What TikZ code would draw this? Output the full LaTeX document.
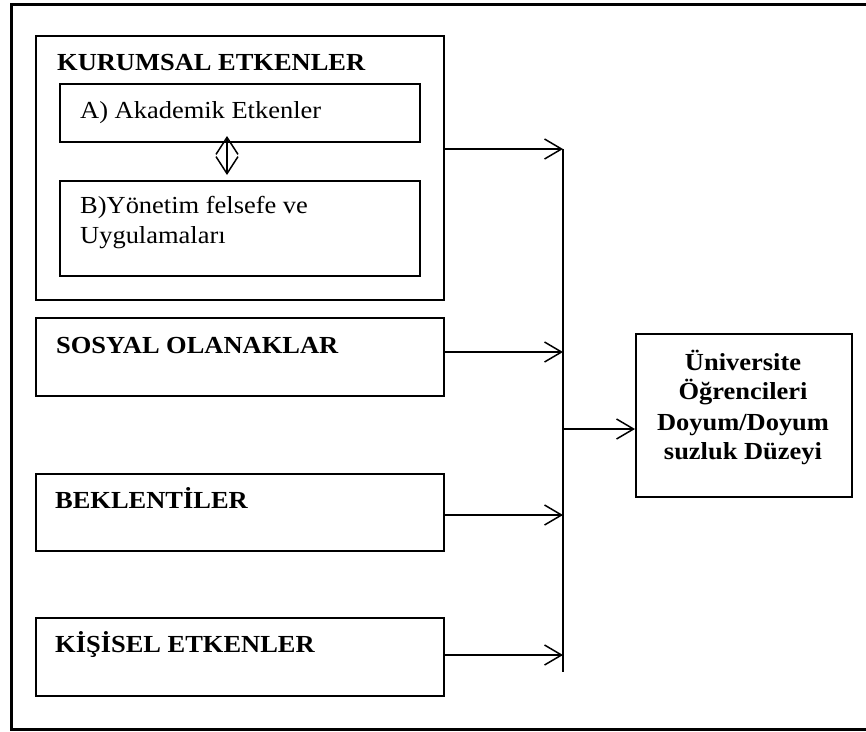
\documentclass[tikz,border=0pt]{standalone}
\usepackage{fontspec}
\setmainfont{Liberation Serif}[FakeStretch=1.08]
\usetikzlibrary{arrows.meta}
\begin{document}
\begin{tikzpicture}[x=1pt,y=-1pt,
  box/.style={draw=black,line width=1.5pt,inner sep=0pt,anchor=north west},
  lbl/.style={anchor=base west,inner sep=0pt,font=\fontsize{24.5}{30}\selectfont},
  hd/.style={lbl,font=\fontsize{24.5}{30}\selectfont\bfseries},
  rt/.style={anchor=base,inner sep=0pt,font=\fontsize{24.5}{30}\selectfont\bfseries},
  arr/.style={line width=1.5pt,-{Straight Barb[length=17pt,width=20pt]}},
  dbl/.style={line width=1.5pt,{Straight Barb[length=17pt,width=22pt]}-{Straight Barb[length=17pt,width=22pt]}}]
\useasboundingbox (0,0) rectangle (866,731);
\draw[line width=3pt] (11.5,4.5) rectangle (890,729.5);
% boxes
\node[box,minimum width=408pt,minimum height=264pt] (kur) at (35,35) {};
\node[box,minimum width=360pt,minimum height=58pt] (aka) at (59,83) {};
\node[box,minimum width=360pt,minimum height=95pt] (yon) at (59,180) {};
\node[box,minimum width=408pt,minimum height=78pt] (sos) at (35,317) {};
\node[box,minimum width=408pt,minimum height=77pt] (bek) at (35,473) {};
\node[box,minimum width=408pt,minimum height=78pt] (kis) at (35,617) {};
\node[box,minimum width=216pt,minimum height=163pt] (uni) at (635,333) {};
% texts
\node[hd] (tkur) at (57,70) {KURUMSAL ETKENLER};
\node[lbl] (taka) at (80,118) {A) Akademik Etkenler};
\node[lbl] (tyon1) at (80,213) {B)Yönetim felsefe ve};
\node[lbl] (tyon2) at (80,243) {Uygulamaları};
\node[hd] (tsos) at (56,353) {SOSYAL OLANAKLAR};
\node[hd] (tbek) at (55,508) {BEKLENTİLER};
\node[hd] (tkis) at (55,652) {KİŞİSEL ETKENLER};
\node[rt] (tu1) at (743,370) {Üniversite};
\node[rt] (tu2) at (743,399) {Öğrencileri};
\node[rt] (tu3) at (743,430) {Doyum/Doyum};
\node[rt] (tu4) at (743,459) {suzluk Düzeyi};
% bar and arrows
\coordinate (t1) at (563,149);
\coordinate (t2) at (563,352);
\coordinate (t3) at (563,515);
\coordinate (t4) at (563,655);
\coordinate (t5) at (563,429);
\coordinate (bb) at (563,672);
\draw[line width=1.5pt] (t1) -- (bb);
\draw[arr] (kur.east |- t1) -- (t1);
\draw[arr] (sos.east |- t2) -- (t2);
\draw[arr] (bek.east |- t3) -- (t3);
\draw[arr] (kis.east |- t4) -- (t4);
\draw[arr] (t5) -- (uni.west |- t5);
\coordinate (d1) at (227,136);
\coordinate (d2) at (227,175);
\draw[dbl] (d1) -- (d2);
\end{tikzpicture}
\end{document}
